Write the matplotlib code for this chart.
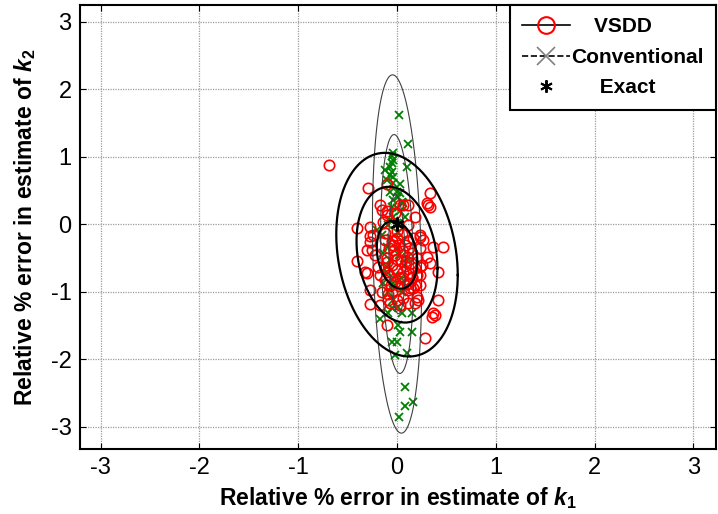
import numpy as np
import matplotlib
matplotlib.use("Agg")
import matplotlib.pyplot as plt
from matplotlib.lines import Line2D

plt.rcParams['font.family'] = ['Liberation Sans', 'DejaVu Sans']
plt.rcParams['mathtext.fontset'] = 'custom'
plt.rcParams['mathtext.rm'] = 'Liberation Sans'
plt.rcParams['mathtext.bf'] = 'Liberation Sans:bold'
plt.rcParams['mathtext.it'] = 'Liberation Sans:italic'
plt.rcParams['mathtext.bfit'] = 'Liberation Sans:italic:bold'
plt.rcParams['axes.unicode_minus'] = False

# ---- data: VSDD estimates (relative % error in k1, k2)
vsdd_x = [-0.69, -0.29, -0.10, -0.17, -0.15, -0.10, -0.41, 0.33, 0.30, 0.33, 0.11, 0.06, 0.18, 0.11,
          -0.41, -0.27, -0.12, -0.30, -0.25, -0.32, -0.30, -0.19, -0.17, -0.27, -0.15, -0.27, -0.17,
          -0.09, -0.05, -0.22, -0.10, -0.04, -0.12, 0.23, 0.36, 0.47, 0.25, 0.23, 0.41, 0.00, 0.20,
          0.42, 0.18, 0.06, 0.03, 0.36, -0.10, 0.11, 0.18, 0.21, 0.38, 0.35, 0.28, -0.09,
          -0.27, -0.24, -0.27, -0.12, -0.10, 0.03, 0.11, 0.23, 0.11, -0.07, 0.00, -0.02, 0.03, 0.31,
          -0.10, -0.14, 0.23, 0.26, 0.23, 0.30, 0.33, 0.23, 0.15, 0.16,
          0.00, 0.05, -0.05, 0.10, 0.02, 0.12, -0.08, 0.06, 0.15, -0.02, 0.10, 0.20, -0.10, 0.04,
          0.14, -0.05, 0.08, 0.18, 0.00, 0.12, -0.08, 0.05, 0.15, -0.02, 0.10, 0.03, 0.08, 0.16,
          -0.03, 0.09, 0.00, 0.06, -0.12, 0.20, 0.13, -0.06]
vsdd_y = [0.88, 0.54, 0.59, 0.29, 0.21, 0.19, -0.05, 0.47, 0.32, 0.26, 0.29, 0.29, 0.11, -0.01,
          -0.54, -0.17, -0.13, -0.38, -0.38, -0.70, -0.72, -0.64, -0.75, -0.97, -1.00, -1.18, -1.19,
          -1.12, -1.01, -0.45, -0.56, -0.30, -0.23, -0.19, -0.33, -0.33, -0.60, -0.64, -0.70, -0.20, -1.07,
          -1.12, -1.16, -1.09, -1.19, -1.31, -1.49, -0.97, -0.90, -1.12, -1.34, -1.37, -1.68, -1.04,
          -0.04, -0.16, -0.26, -0.82, -0.70, -0.79, -0.87, -0.90, -1.16, -1.16, -1.12, 0.17, 0.29, 0.29,
          0.14, 0.04, -0.16, -0.23, -0.35, -0.48, -0.57, -0.75, -0.78, -0.94,
          -0.10, -0.15, -0.25, -0.25, -0.30, -0.35, -0.35, -0.40, -0.42, -0.45, -0.48, -0.50, -0.50, -0.55,
          -0.58, -0.60, -0.62, -0.65, -0.68, -0.72, -0.75, -0.78, -0.80, -0.85, -0.88, -0.92, -0.30, -0.20,
          -0.38, -0.55, -0.52, -0.70, -0.65, -0.75, -0.95, -0.90]

# ---- data: Conventional estimates
conv_x = [0.02, 0.11, -0.04, -0.05, -0.04, -0.05, -0.07, 0.10, -0.12, -0.05, -0.07, -0.04, -0.10, -0.04,
          0.03, 0.00, -0.07, 0.03, 0.01, -0.04, 0.05, 0.06, -0.05, 0.00, 0.03, 0.08, -0.04, -0.07, 0.00,
          -0.09, 0.01, -0.20, -0.15, -0.10, -0.14, -0.07, -0.10, -0.09, -0.04, -0.14, 0.08, -0.09, -0.04,
          0.01, -0.05, -0.17, 0.15, 0.05, -0.09, 0.01, 0.03, 0.15, -0.05, 0.00, 0.10, -0.02, 0.08, 0.16,
          0.08, 0.02, 0.05, 0.02, 0.07, -0.02, 0.05, -0.06, 0.10, -0.03, 0.04, 0.00]
conv_y = [1.62, 1.19, 1.06, 1.01, 0.96, 0.91, 0.85, 0.85, 0.81, 0.78, 0.73, 0.70, 0.66, 0.61,
          0.59, 0.48, 0.48, 0.47, 0.41, 0.36, 0.33, 0.32, 0.26, 0.24, 0.19, 0.11, 0.11, 0.07, 0.02,
          -0.01, -0.13, -0.08, -0.16, -0.33, -0.42, -0.53, -0.63, -0.72, -0.87, -0.87, -0.93, -1.01, -1.12,
          -1.22, -1.24, -1.41, -1.31, -1.31, -1.31, -1.49, -1.59, -1.59, -1.74, -1.74, -1.90, -1.93, -2.41, -2.64,
          -2.69, -2.85, -0.25, -0.45, -0.60, -0.75, -1.00, -0.20, -0.50, -0.95, -0.80, -0.35]

exact_x = [0.0]
exact_y = [0.0]

# ---- confidence-ellipse parameters (center, sigma_x, sigma_y, correlation)
vsdd_ell = dict(cx=0.0, cy=-0.45, sx=0.205, sy=0.503, rho=-0.2)
conv_ell = dict(cx=0.0, cy=-0.44, sx=0.083, sy=0.885, rho=-0.18)
ell_levels = [1, 2, 3]

xticks = [-3, -2, -1, 0, 1, 2, 3]
yticks = [-3, -2, -1, 0, 1, 2, 3]


def ellipse(p, k, n=300):
    t = np.linspace(0, 2 * np.pi, n)
    cov = np.array([[p['sx'] ** 2, p['rho'] * p['sx'] * p['sy']],
                    [p['rho'] * p['sx'] * p['sy'], p['sy'] ** 2]])
    L = np.linalg.cholesky(cov)
    pts = k * L @ np.vstack([np.cos(t), np.sin(t)])
    return pts[0] + p['cx'], pts[1] + p['cy']


fig = plt.figure(figsize=(7.18, 5.14), dpi=100)
ax = fig.add_axes([80 / 718, 1 - 449 / 514, 636 / 718, 444 / 514])

green = (0.0, 0.5, 0.0)
ax.plot(conv_x, conv_y, linestyle='none', marker='x', color=green, markersize=6, markeredgewidth=1.3, zorder=3)
ax.plot(vsdd_x, vsdd_y, linestyle='none', marker='o', markerfacecolor='none', markeredgecolor='red',
        markersize=7.5, markeredgewidth=1.2, zorder=4)

for k in ell_levels:
    ex, ey = ellipse(conv_ell, k)
    ax.plot(ex, ey, color=(0.25, 0.25, 0.25), linewidth=0.8, zorder=5)
    ex, ey = ellipse(vsdd_ell, k)
    ax.plot(ex, ey, color='black', linewidth=1.6, zorder=6)

ax.plot(exact_x, exact_y, linestyle='none', marker=(6, 2, 0), color='black', markersize=10,
        markeredgewidth=1.6, zorder=7)

ax.set_xlim(-3.21, 3.23)
ax.set_ylim(-3.33, 3.25)
ax.set_xticks(xticks)
ax.set_yticks(yticks)
ax.tick_params(direction='in', length=4, width=0.8, labelsize=17, pad=6,
               top=True, right=True)
ax.grid(True, color=(0.62, 0.62, 0.62), linestyle=(0, (1, 1)), linewidth=0.9)
ax.set_axisbelow(True)
for s in ax.spines.values():
    s.set_linewidth(1.5)

ax.set_xlabel(r'Relative % error in estimate of $\mathbfit{k}_{\mathbf{1}}$', fontsize=16.5,
              fontweight='bold', labelpad=4)
ax.set_ylabel(r'Relative % error in estimate of $\mathbfit{k}_{\mathbf{2}}$', fontsize=16.5,
              fontweight='bold', labelpad=9)

h1 = Line2D([], [], color='black', linestyle='-', linewidth=1.2, marker='o', markerfacecolor='none',
            markeredgecolor='red', markersize=12, markeredgewidth=1.5)
h2 = Line2D([], [], color='black', linestyle='--', linewidth=1.2, marker='x', markeredgecolor='gray',
            markersize=13, markeredgewidth=1.2)
h3 = Line2D([], [], color='black', linestyle='none', marker=(6, 2, 0), markersize=9, markeredgewidth=1.4)
leg = ax.legend([h1, h2, h3], ['    VSDD', 'Conventional', '     Exact'], loc='upper right',
                bbox_to_anchor=(1.0, 1.0), borderaxespad=0, fancybox=False, framealpha=1,
                edgecolor='black', prop={'weight': 'bold', 'size': 15}, handlelength=2.3,
                handletextpad=0.05, borderpad=0.6, labelspacing=0.55)
leg.get_frame().set_linewidth(1.5)
leg.set_zorder(10)

fig.savefig('out.png', dpi=100)
